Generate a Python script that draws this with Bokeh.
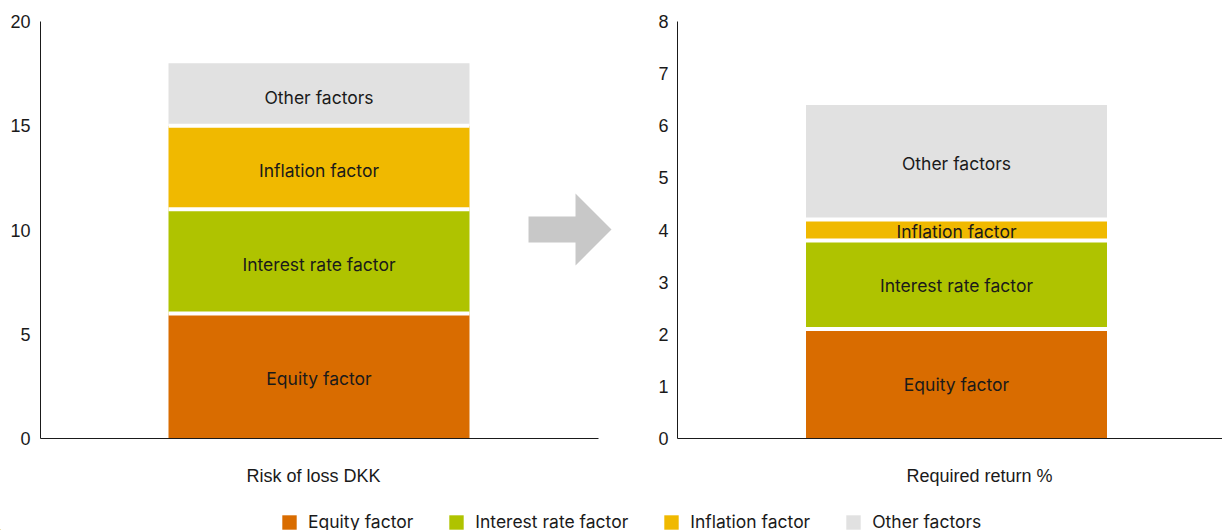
from bokeh.plotting import figure
from bokeh.layouts import column, row
from bokeh.models import (Range1d, FixedTicker, ColumnDataSource, Legend,
                          LegendItem, LinearAxis)
from bokeh.core.properties import value
from bokeh.embed import file_html
from bokeh.resources import INLINE
import numpy as np

# ---- data -------------------------------------------------------------
factors = ["Equity factor", "Interest rate factor", "Inflation factor", "Other factors"]
factor_colors = ["#D96C00", "#AFC300", "#F0B900", "#E1E1E1"]
risk_of_loss = [6, 5, 4, 3]                 # DKK
required_return = [2.1, 1.7, 0.4, 2.2]      # %
left_ticks = [0, 5, 10, 15, 20]
right_ticks = [0, 1, 2, 3, 4, 5, 6, 7, 8]
categories = ["Risk of loss DKK", "Required return %"]

# ---- styling ----------------------------------------------------------
AXIS_FONT = "Liberation Sans"
LABEL_FONT = "Inter"
LABEL_SIZE = "17.5px"
TEXT_COLOR = "#1a1a1a"
AXIS_COLOR = "#1a1a1a"
ARROW_COLOR = "#C8C8C8"

TOP = 21
FRAME_H = 417
BOTTOM = 62
BAR_W = 301          # bar width in screen pixels (x units are pixels)


def stacked_panel(values, ymax, yticks, width, left_border, frame_w,
                  bar_center, category, cat_pos, line_bounds, standoff,
                  label_shift):
    p = figure(width=width, height=TOP + FRAME_H + BOTTOM,
               x_range=Range1d(0, frame_w), y_range=Range1d(0, ymax),
               x_axis_type=None, y_axis_type=None,
               output_backend="svg", toolbar_location=None,
               min_border_left=left_border, min_border_right=0,
               min_border_top=TOP, min_border_bottom=BOTTOM,
               outline_line_color=None)

    vals = np.array(values, dtype=float)
    tops = np.cumsum(vals)
    bottoms = tops - vals
    src = ColumnDataSource(dict(
        x=[bar_center] * len(vals), bottom=bottoms, top=tops,
        mid=(bottoms + tops) / 2, color=factor_colors, label=factors))

    p.vbar(x="x", width=BAR_W, bottom="bottom", top="top", source=src,
           fill_color="color", line_color=None)
    # white separators between stacked segments
    p.segment(x0=bar_center - BAR_W / 2, x1=bar_center + BAR_W / 2,
              y0=tops[:-1], y1=tops[:-1], line_color="white", line_width=4)
    p.text(x="x", y="mid", text="label", source=src,
           text_align="center", text_baseline="middle", y_offset=label_shift,
           text_font=value(LABEL_FONT), text_font_size=LABEL_SIZE,
           text_color=TEXT_COLOR)

    yaxis = LinearAxis(ticker=FixedTicker(ticks=yticks),
                       major_tick_in=0, major_tick_out=0,
                       minor_tick_line_color=None,
                       major_label_standoff=standoff,
                       axis_line_color=AXIS_COLOR,
                       major_label_text_font=AXIS_FONT,
                       major_label_text_font_size="18px",
                       major_label_text_color=TEXT_COLOR)
    p.add_layout(yaxis, "left")

    xaxis = LinearAxis(ticker=FixedTicker(ticks=[cat_pos]),
                       major_label_overrides={cat_pos: category},
                       major_tick_in=0, major_tick_out=0,
                       minor_tick_line_color=None,
                       major_label_standoff=27,
                       axis_line_color=AXIS_COLOR,
                       bounds=line_bounds,
                       major_label_text_font=AXIS_FONT,
                       major_label_text_font_size="18px",
                       major_label_text_color=TEXT_COLOR)
    p.add_layout(xaxis, "below")
    return p


left = stacked_panel(risk_of_loss, 20, left_ticks, width=640, left_border=40,
                     frame_w=600, bar_center=278.5, category=categories[0],
                     cat_pos=273, line_bounds=(0, 558), standoff=10,
                     label_shift=3)
right = stacked_panel(required_return, 8, right_ticks, width=582, left_border=37,
                      frame_w=545, bar_center=279, category=categories[1],
                      cat_pos=302, line_bounds=(0, 545), standoff=9,
                      label_shift=1)

# grey arrow pointing from the risk panel to the return panel
left.extra_y_ranges = {"px": Range1d(0, FRAME_H)}
left.patch(x=[488, 535, 535, 571, 535, 535, 488],
           y=[222, 222, 245, 209, 173, 196, 196],
           y_range_name="px", fill_color=ARROW_COLOR, line_color=None)

# ---- legend row -------------------------------------------------------
lp = figure(width=1222, height=30, x_range=Range1d(0, 1222), y_range=Range1d(0, 30),
            x_axis_type=None, y_axis_type=None, output_backend="svg",
            toolbar_location=None, min_border=0, outline_line_color=None)
items = []
for name, c in zip(factors, factor_colors):
    # swatch renderers sit outside the visible range; only their legend entries show
    r = lp.vbar(x=[-100], width=1, top=[1], fill_color=c, line_color=None)
    items.append(LegendItem(label=name, renderers=[r]))
legend = Legend(items=items, orientation="horizontal", location=(280, -2),
                glyph_width=18, glyph_height=18, label_standoff=10, spacing=34,
                padding=0, margin=0, border_line_color=None,
                background_fill_alpha=0,
                label_text_font=LABEL_FONT, label_text_font_size=LABEL_SIZE,
                label_text_color=TEXT_COLOR, label_height=18)
lp.add_layout(legend, "center")

layout = column(row(left, right), lp)

with open("out.html", "w") as f:
    f.write(file_html(layout, INLINE))
